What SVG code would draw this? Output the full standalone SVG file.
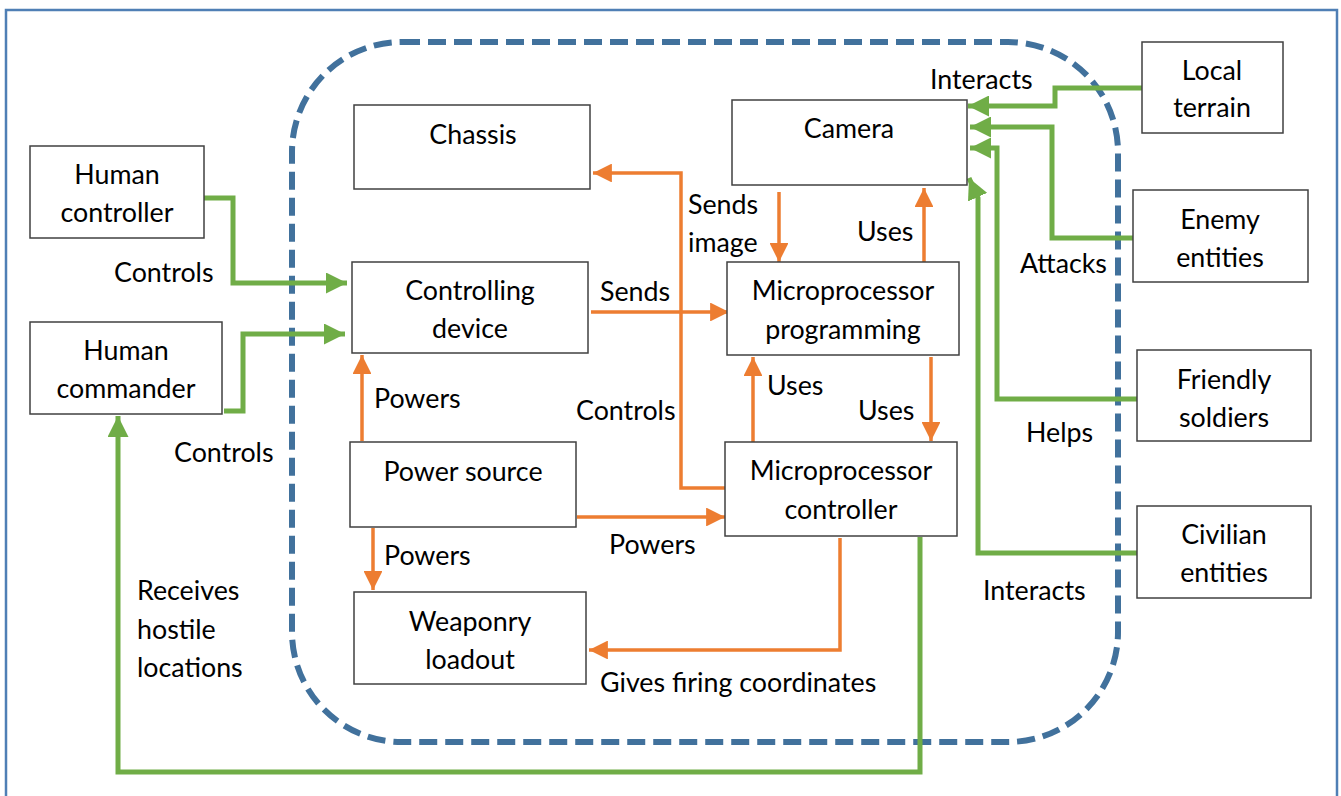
<svg xmlns="http://www.w3.org/2000/svg" width="1341" height="796" viewBox="0 0 1341 796">
<style>
.box{fill:#fff;stroke:#404040;stroke-width:1.5}
text{font-family:Lato,"Liberation Sans",sans-serif;font-size:26.8px;fill:#000}
.c{text-anchor:middle}
.g{fill:none;stroke:#70AD47;stroke-width:5}
.o{fill:none;stroke:#ED7D31;stroke-width:3.5}
</style>
<defs>
<marker id="ag" viewBox="0 0 10 10" refX="10" refY="5" markerWidth="4.2" markerHeight="4.2" orient="auto" markerUnits="strokeWidth"><path d="M0,0L10,5L0,10z" fill="#70AD47"/></marker>
<marker id="ao" viewBox="0 0 10 10" refX="10" refY="5" markerWidth="5.4" markerHeight="5.4" orient="auto" markerUnits="strokeWidth"><path d="M0,0L10,5L0,10z" fill="#ED7D31"/></marker>
</defs>
<rect x="6" y="10" width="1331" height="800" fill="#fff" stroke="#4F7FB5" stroke-width="2.5"/>
<rect id="boundary" x="292" y="42" width="826" height="700" rx="110" ry="110" fill="none" stroke="#41719C" stroke-width="6" stroke-dasharray="18 8"/>
<g id="connectors">
<path class="g" d="M204,198H233V283H347" marker-end="url(#ag)"/>
<path class="g" d="M224,411H243V334H345" marker-end="url(#ag)"/>
<path class="g" d="M920,537V772H118V416" marker-end="url(#ag)"/>
<path class="g" d="M1142,88H1055V106H968" marker-end="url(#ag)"/>
<path class="g" d="M1136,238H1052V127H970" marker-end="url(#ag)"/>
<path class="g" d="M1139,399H997V148H970" marker-end="url(#ag)"/>
<path class="g" d="M1139,553H978V198L969,178" marker-end="url(#ag)"/>
<path class="o" d="M726,488H681V173H593" marker-end="url(#ao)"/>
<path class="o" d="M591,312H729" marker-end="url(#ao)"/>
<path class="o" d="M779,192V262" marker-end="url(#ao)"/>
<path class="o" d="M924,262V188" marker-end="url(#ao)"/>
<path class="o" d="M753,442V357" marker-end="url(#ao)"/>
<path class="o" d="M931,357V441" marker-end="url(#ao)"/>
<path class="o" d="M362,441V355" marker-end="url(#ao)"/>
<path class="o" d="M373,528V590" marker-end="url(#ao)"/>
<path class="o" d="M577,517H725" marker-end="url(#ao)"/>
<path class="o" d="M840,538V650H589" marker-end="url(#ao)"/>
</g>
<g id="labels">
<text x="114" y="282">Controls</text>
<text x="174" y="462">Controls</text>
<text x="137" y="600">Receives</text>
<text x="137" y="639">hostile</text>
<text x="137" y="677">locations</text>
<text x="374" y="408">Powers</text>
<text x="576" y="420">Controls</text>
<text x="600" y="301">Sends</text>
<text x="688" y="214">Sends</text>
<text x="688" y="252">image</text>
<text x="857" y="241">Uses</text>
<text x="767" y="395">Uses</text>
<text x="858" y="420">Uses</text>
<text x="384" y="565">Powers</text>
<text x="609" y="554">Powers</text>
<text x="600" y="692">Gives firing coordinates</text>
<text x="930" y="89">Interacts</text>
<text x="1020" y="273">Attacks</text>
<text x="1026" y="442">Helps</text>
<text x="983" y="600">Interacts</text>
</g>
<g id="human-controller"><rect class="box" x="30" y="146" width="174" height="92"/><text class="c" x="117" y="184">Human</text><text class="c" x="117" y="222">controller</text></g>
<g id="human-commander"><rect class="box" x="30" y="322" width="192" height="92"/><text class="c" x="126" y="360">Human</text><text class="c" x="126" y="398">commander</text></g>
<g id="chassis"><rect class="box" x="354" y="105" width="236" height="84"/><text class="c" x="473" y="144">Chassis</text></g>
<g id="controlling-device"><rect class="box" x="352" y="262" width="236" height="91"/><text class="c" x="470" y="300">Controlling</text><text class="c" x="470" y="338">device</text></g>
<g id="power-source"><rect class="box" x="350" y="442" width="226" height="85"/><text class="c" x="463" y="481">Power source</text></g>
<g id="weaponry-loadout"><rect class="box" x="354" y="592" width="232" height="92"/><text class="c" x="470" y="631">Weaponry</text><text class="c" x="470" y="669">loadout</text></g>
<g id="camera"><rect class="box" x="732" y="100" width="235" height="85"/><text class="c" x="849" y="138">Camera</text></g>
<g id="mp-programming"><rect class="box" x="727" y="262" width="232" height="93"/><text class="c" x="843" y="300">Microprocessor</text><text class="c" x="843" y="339">programming</text></g>
<g id="mp-controller"><rect class="box" x="725" y="442" width="232" height="94"/><text class="c" x="841" y="480">Microprocessor</text><text class="c" x="841" y="519">controller</text></g>
<g id="local-terrain"><rect class="box" x="1142" y="42" width="141" height="91"/><text class="c" x="1212" y="80">Local</text><text class="c" x="1212" y="117">terrain</text></g>
<g id="enemy-entities"><rect class="box" x="1133" y="190" width="175" height="92"/><text class="c" x="1220" y="229">Enemy</text><text class="c" x="1220" y="267">entities</text></g>
<g id="friendly-soldiers"><rect class="box" x="1137" y="350" width="174" height="91"/><text class="c" x="1224" y="389">Friendly</text><text class="c" x="1224" y="427">soldiers</text></g>
<g id="civilian-entities"><rect class="box" x="1137" y="506" width="174" height="92"/><text class="c" x="1224" y="544">Civilian</text><text class="c" x="1224" y="582">entities</text></g>
</svg>
